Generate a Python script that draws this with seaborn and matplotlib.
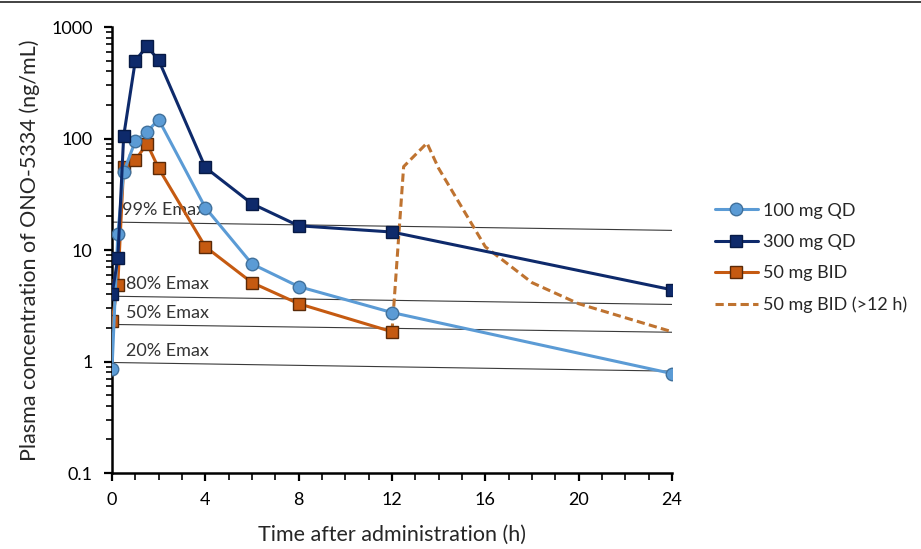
import matplotlib
matplotlib.use('Agg')
import matplotlib.pyplot as plt
import matplotlib.ticker as mticker
from matplotlib.lines import Line2D
import seaborn as sns
import pandas as pd
import numpy as np

# sampling times (h)
t_first = [0, 0.25, 0.5, 1, 1.5, 2, 4, 6, 8, 12, 24]
t_bid = [0, 0.25, 0.5, 1, 1.5, 2, 4, 6, 8, 12]
t_bid2 = [12, 12.5, 13.5, 14, 16, 18, 20, 24]

# plasma concentrations (ng/mL)
qd100 = [0.85, 14, 50, 95, 115, 148, 24, 7.5, 4.7, 2.75, 0.78]
qd300 = [4.0, 8.4, 105, 500, 670, 505, 55, 26, 16.5, 14.5, 4.4]
bid50 = [2.3, 4.9, 56, 64, 90, 54, 10.7, 5.1, 3.3, 1.85]
bid50_late = [1.85, 56, 91, 54, 10.7, 5.1, 3.3, 1.85]

# Emax reference lines: value at 0 h and at 24 h
emax_labels = ['99% Emax', '80% Emax', '50% Emax', '20% Emax']
emax_start = [17.8, 3.85, 2.15, 0.98]
emax_end = [15.0, 3.25, 1.83, 0.82]
emax_text_y = [19.3, 4.2, 2.3, 1.05]
emax_text_x = [0.45, 0.62, 0.62, 0.62]

sns.set_style('ticks')
plt.rcParams['font.family'] = ['Lato', 'DejaVu Sans']

c_light = '#5B9BD5'
c_navy = '#0E2A6B'
c_orange = '#C55A11'
c_dash = '#BF7330'

fig = plt.figure(figsize=(9.21, 5.49), dpi=100)
ax = fig.add_axes([0.1216, 0.1384, 0.608, 0.8124])

# Emax lines
for lab, y0, y1, ty, tx in zip(emax_labels, emax_start, emax_end, emax_text_y, emax_text_x):
    ax.plot([0, 24], [y0, y1], color='#3a3a3a', lw=0.8, zorder=1)
    ax.text(tx, ty, lab, fontsize=13, color='#333333', va='bottom', ha='left', zorder=2)

sns.lineplot(x=t_first, y=qd100, ax=ax, color=c_light, lw=2.2, marker='o',
             markersize=9, markerfacecolor=c_light, markeredgecolor='#41719C',
             markeredgewidth=1.0, label='100 mg QD', zorder=4)
sns.lineplot(x=t_first, y=qd300, ax=ax, color=c_navy, lw=2.2, marker='s',
             markersize=9, markerfacecolor='#0E2A6B', markeredgecolor='#071a45',
             markeredgewidth=1.0, label='300 mg QD', zorder=5)
sns.lineplot(x=t_bid, y=bid50, ax=ax, color=c_orange, lw=2.2, marker='s',
             markersize=9, markerfacecolor=c_orange, markeredgecolor='#5a2a08',
             markeredgewidth=1.0, label='50 mg BID', zorder=3)
sns.lineplot(x=t_bid2, y=bid50_late, ax=ax, color=c_dash, lw=2.2,
             linestyle=(0, (2.7, 1.4)), label='50 mg BID (>12 h)', zorder=2)

ax.set_yscale('log')
ax.set_ylim(0.1, 1000)
ax.set_xlim(0, 24)
ax.set_xticks([0, 4, 8, 12, 16, 20, 24])
ax.xaxis.set_minor_locator(mticker.MultipleLocator(1))
ax.yaxis.set_major_locator(mticker.LogLocator(base=10))
ax.yaxis.set_minor_locator(mticker.LogLocator(base=10, subs=np.arange(2, 10)))
ax.yaxis.set_minor_formatter(mticker.NullFormatter())
ax.yaxis.set_major_formatter(mticker.FuncFormatter(lambda v, p: '{:g}'.format(v)))

for s in ['top', 'right']:
    ax.spines[s].set_visible(False)
for s in ['left', 'bottom']:
    ax.spines[s].set_linewidth(1.8)
    ax.spines[s].set_color('black')
ax.tick_params(which='major', direction='out', length=6, width=1.6, labelsize=13, colors='black', pad=8)
ax.tick_params(which='minor', direction='out', length=4, width=1.4)
ax.tick_params(axis='x', which='minor', length=5)

ax.set_xlabel('Time after administration (h)', fontsize=15.5, labelpad=12)
ax.set_ylabel('Plasma concentration of ONO-5334 (ng/mL)', fontsize=15.5, labelpad=8)

handles, labels = ax.get_legend_handles_labels()
ax.legend(handles, labels, loc='center left', bbox_to_anchor=(0.776, 0.53),
          bbox_transform=fig.transFigure, frameon=False, fontsize=13,
          handlelength=2.4, handletextpad=0.3, labelspacing=0.85,
          borderpad=0, borderaxespad=0)

fig.add_artist(Line2D([0, 1], [0.997, 0.997], transform=fig.transFigure, color='#222222', lw=1.2))

fig.savefig('out.png', dpi=100)
